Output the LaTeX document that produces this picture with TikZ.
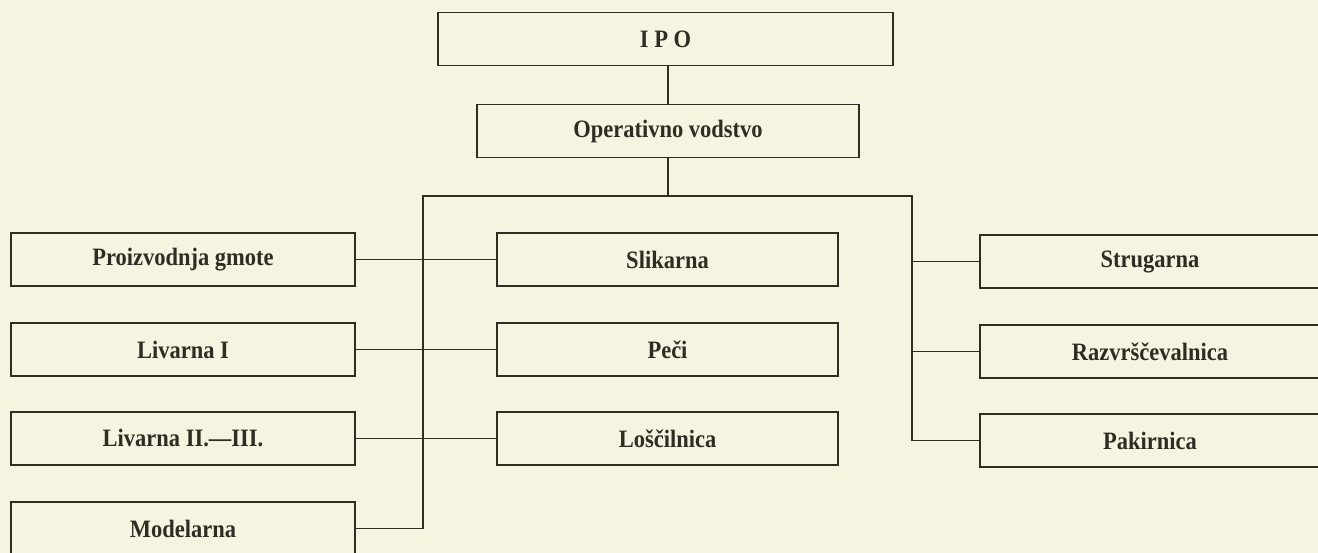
\documentclass[tikz,border=0pt]{standalone}
\usepackage{fontspec}
\usepackage{tikz}
\newfontfamily\boxfont{Liberation Serif}[FakeStretch=0.9]
\definecolor{paper}{RGB}{246,244,224}
\definecolor{ink}{RGB}{45,45,35}
\tikzset{
	unit/.style={draw=ink, line width=1.8pt, inner sep=0pt, minimum height=53pt, text=ink, font=\boxfont\bfseries\fontsize{25}{29}\selectfont},
	link/.style={draw=ink, line width=1.3pt}
}

\begin{document}
\begin{tikzpicture}[x=1pt,y=-1pt]

	% Page and paper
	\useasboundingbox (0,0) rectangle (1318,553);
	\fill[paper] (0,0) rectangle (1318,553);
	\clip (0,0) rectangle (1318,553);

	% Draw top boxes
	\node[unit, minimum width=455pt] (ipo) at (665.5,39) {I P O};
	\node[unit, minimum width=382pt] (op) at (668,131) {Operativno vodstvo};

	% Draw left column
	\node[unit, minimum width=344pt] (gmota) at (183,259.5) {Proizvodnja gmote};
	\node[unit, minimum width=344pt] (livI) at (183,349.5) {Livarna I};
	\node[unit, minimum width=344pt] (livII) at (183,438.5) {Livarna II.—III.};
	\node[unit, minimum width=344pt] (model) at (183,528.5) {Modelarna};

	% Draw middle column
	\node[unit, minimum width=341pt] (slik) at (667.5,259.5) {Slikarna};
	\node[unit, minimum width=341pt] (peci) at (667.5,349.5) {Peči};
	\node[unit, minimum width=341pt] (losc) at (667.5,438.5) {Loščilnica};

	% Draw right column
	\node[unit, minimum width=340pt] (strug) at (1150,261.5) {Strugarna};
	\node[unit, minimum width=340pt] (razv) at (1150,351.5) {Razvrščevalnica};
	\node[unit, minimum width=340pt] (pak) at (1150,440.5) {Pakirnica};

	% Draw bus lines
	\coordinate (busL) at (423,196);
	\coordinate (busR) at (912,196);
	\draw[link] (ipo.south -| op.north) -- (op.north);
	\draw[link] (op.south) -- (op.south |- busL);
	\draw[link] (busL |- model) -- (busL) -- (busR) -- (busR |- pak);

	% Draw branches
	\draw[link] (gmota.east) -- (slik.west);
	\draw[link] (livI.east) -- (peci.west);
	\draw[link] (livII.east) -- (losc.west);
	\draw[link] (model.east) -- (busL |- model);
	\draw[link] (busR |- strug) -- (strug.west);
	\draw[link] (busR |- razv) -- (razv.west);
	\draw[link] (busR |- pak) -- (pak.west);

\end{tikzpicture}
\end{document}
